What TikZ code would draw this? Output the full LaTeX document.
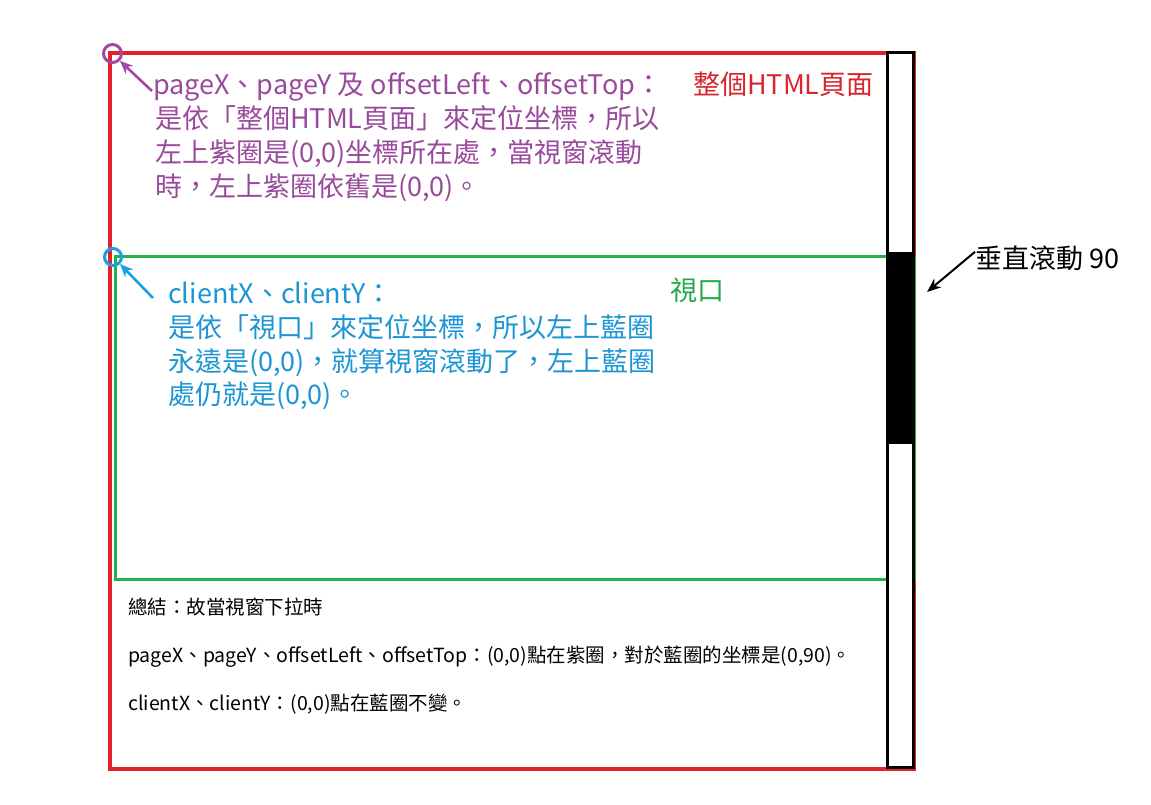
\documentclass[tikz,border=0pt]{standalone}
\usepackage{fontspec}
\setmainfont{Noto Sans CJK TC}
\usetikzlibrary{arrows.meta}
\definecolor{pgred}{HTML}{E3202C}
\definecolor{pgredtxt}{HTML}{D9252E}
\definecolor{vpgreen}{HTML}{22B14C}
\definecolor{vpgreentxt}{HTML}{25A84A}
\definecolor{pgpurple}{HTML}{A349A4}
\definecolor{pgpurpletxt}{HTML}{9A4A9C}
\definecolor{clblue}{HTML}{1AA0E0}
\definecolor{clbluetxt}{HTML}{1C95D4}
\tikzset{
  bigtxt/.style={anchor=base west, inner sep=0pt, font=\fontsize{27}{34}\selectfont},
  smalltxt/.style={anchor=base west, inner sep=0pt, font=\fontsize{19.5}{23}\selectfont, text=black},
  ptr/.style={line width=2.6pt, -{Stealth[length=13pt,width=11pt]}},
}
\begin{document}
\begin{tikzpicture}[x=1pt,y=-1pt]
\useasboundingbox (0,0) rectangle (1151,805);
% page rectangle
\draw[pgred, line width=4pt] (110,53.5) rectangle (914,769);
% viewport rectangle
\draw[vpgreen, line width=3pt] (115,256) rectangle (914,579);
% scrollbar
\draw[black, line width=3.6pt, fill=white] (887.5,52.5) rectangle (913.5,767.5);
\fill[black] (887.5,252) rectangle (913.5,444);
% circles
\node[draw=pgpurple, line width=3pt, circle, minimum size=18pt, inner sep=0pt] (pc) at (112.5,53.5) {};
\node[draw=clblue, line width=3pt, circle, minimum size=17pt, inner sep=0pt] (bc) at (113,257) {};
% purple text
\node[bigtxt, text=pgpurpletxt] (p1) at (153,95) {pageX、pageY 及 offsetLeft、offsetTop：};
\node[bigtxt, text=pgredtxt] (p1r) at (693,95) {整個HTML頁面};
\node[bigtxt, text=pgpurpletxt] (p2) at (155,129) {是依「整個HTML頁面」來定位坐標，所以};
\node[bigtxt, text=pgpurpletxt] (p3) at (155,163) {左上紫圈是(0,0)坐標所在處，當視窗滾動};
\node[bigtxt, text=pgpurpletxt] (p4) at (155,197) {時，左上紫圈依舊是(0,0)。};
% blue text
\node[bigtxt, text=clbluetxt] (b1) at (168,303) {clientX、clientY：};
\node[bigtxt, text=clbluetxt] (b2) at (168,337) {是依「視口」來定位坐標，所以左上藍圈};
\node[bigtxt, text=clbluetxt] (b3) at (168,371) {永遠是(0,0)，就算視窗滾動了，左上藍圈};
\node[bigtxt, text=clbluetxt] (b4) at (168,404) {處仍就是(0,0)。};
\node[bigtxt, text=vpgreentxt] (vp) at (670,300) {視口};
% scroll label
\node[bigtxt, text=black] (sc) at (975,268) {垂直滾動 90};
\coordinate (scbar) at (927,292);
% summary
\node[smalltxt] (s1) at (128,614) {總結：故當視窗下拉時};
\node[smalltxt] (s2) at (128,662) {pageX、pageY、offsetLeft、offsetTop：(0,0)點在紫圈，對於藍圈的坐標是(0,90)。};
\node[smalltxt] (s3) at (128,710) {clientX、clientY：(0,0)點在藍圈不變。};
% arrows
\draw[ptr, pgpurple] (152,91) -- (pc.south east);
\draw[ptr, clblue] (153,298) -- (bc.south east);
\draw[black, line width=2pt, -{Stealth[length=14pt,width=11pt]}] (sc.west) ++(0,-6) -- (scbar);
\end{tikzpicture}
\end{document}
